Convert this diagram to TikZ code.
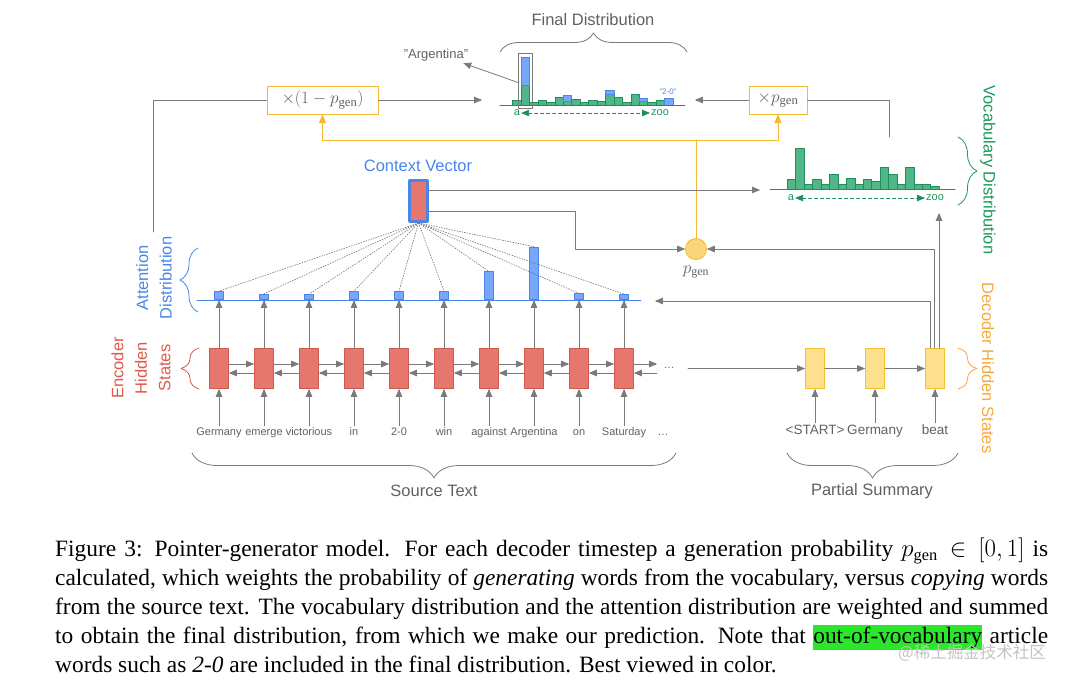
\documentclass[tikz,border=0pt]{standalone}
\usepackage{fontspec}
\setmainfont{Liberation Serif}
\setsansfont{Liberation Sans}
\newfontfamily\cjkfont{Noto Sans CJK SC}
\usetikzlibrary{arrows, calc, positioning, decorations.pathreplacing}

\definecolor{linegray}{HTML}{7A7A7A}
\definecolor{txtgray}{HTML}{616161}
\definecolor{encfill}{HTML}{E6776E}
\definecolor{encdraw}{HTML}{CF5A50}
\definecolor{encred}{HTML}{E0584C}
\definecolor{attfill}{HTML}{76A7FA}
\definecolor{attdraw}{HTML}{4A86E8}
\definecolor{attblue}{HTML}{4A86E8}
\definecolor{vocfill}{HTML}{52B788}
\definecolor{vocdraw}{HTML}{1E8F5C}
\definecolor{vocgreen}{HTML}{1A9A5C}
\definecolor{decfill}{HTML}{FCE08D}
\definecolor{decdraw}{HTML}{F5C02B}
\definecolor{decorange}{HTML}{F5A93B}
\definecolor{gatey}{HTML}{F5B82E}
\definecolor{pgfillc}{HTML}{FBD57A}
\definecolor{hlgreen}{HTML}{2BE62B}
\definecolor{wmgray}{HTML}{C4C4C4}

\newcommand{\hlword}[1]{{\setlength{\fboxsep}{0pt}\colorbox{hlgreen}{\rule[-6pt]{0pt}{25pt}#1}}}

\tikzset{
  conn/.style={draw=linegray, line width=0.8pt},
  gate/.style={draw=gatey, line width=1pt},
  encbox/.style={draw=encdraw, fill=encfill, line width=0.8pt, minimum width=19pt, minimum height=40pt, inner sep=0pt},
  decbox/.style={draw=decdraw, fill=decfill, line width=0.8pt, minimum width=19pt, minimum height=40pt, inner sep=0pt},
  attbar/.style={draw=attdraw, fill=attfill, line width=0.6pt, minimum width=8.5pt, inner sep=0pt, anchor=south},
  vocbar/.style={draw=vocdraw, fill=vocfill, line width=0.6pt},
  copybar/.style={draw=attdraw, fill=attfill, line width=0.6pt},
  word/.style={text=txtgray, font=\sffamily\fontsize{11}{13}\selectfont, inner sep=1pt, text height=8pt, text depth=2pt},
  tick/.style={text=vocgreen, font=\sffamily\fontsize{11}{12}\selectfont, inner sep=1pt},
  sidelabel/.style={font=\sffamily\fontsize{16.5}{23.5}\selectfont, align=center},
  mulbox/.style={draw=gatey, line width=1pt, fill=white, minimum height=28pt, inner sep=0pt, text=txtgray, font=\fontsize{18}{20}\selectfont},
  curly/.style={decorate, decoration={brace, amplitude=#1}, line width=0.8pt},
}

\begin{document}
\begin{tikzpicture}[line cap=round,line join=round,>=triangle 45,x=1pt,y=-1pt]
\useasboundingbox (0,0) rectangle (1080,683);

% final distribution
\node[sidelabel, text=txtgray] (finaltxt) at (593,20) {Final Distribution};
\draw[curly=19, draw=linegray] (500,52) -- (687,52);
\foreach \g/\b [count=\i from 0] in {5/0,20/48,2.7/0,5/0,2.7/0,7.7/0,3.3/9.3,5.7/0,2.7/0,5/0,4/0,10.7/15,7.3/0,2.7/0,10.7/0,3.3/6.7,2.7/0,5/0,0/6.7} {
  \ifdim\g pt>0pt \draw[vocbar] (512.7+8.44*\i,105) rectangle ++(8.44,-\g); \fi
  \ifdim\b pt>0pt \draw[copybar] (512.7+8.44*\i,105-\g) rectangle ++(8.44,\g-\b); \fi
}
\draw[draw=vocdraw, line width=0.8pt] (500,105) -- (685,105);
\node[tick] (fa) at (517,113) {a};
\node[tick] (fz) at (660,113) {zoo};
\draw[draw=vocdraw, dashed, <->, line width=0.8pt] (fa) -- (fz);
\node[font=\sffamily\fontsize{8}{9}\selectfont, text=attblue] (oov) at (668,92) {"2-0"};

\node[draw=linegray, line width=0.8pt, minimum width=14pt, minimum height=55pt, inner sep=0pt] (argbox) at (525.4,80.5) {};
\node[word, font=\sffamily\fontsize{13}{15}\selectfont] (argtxt) at (436,55) {"Argentina"};
\draw[conn,->] ([yshift=-2pt]argbox.west) -- ([xshift=-6pt,yshift=-2pt]argtxt.south east);

% gates
\node[mulbox, minimum width=111pt] (onem) at (322.5,100) {$\times(1-p_{\mathrm{gen}})$};
\node[mulbox, minimum width=58pt] (pm) at (778,100) {$\times p_{\mathrm{gen}}$};

\coordinate (attnout) at (153,232);
\coordinate (finleft) at (482,100);
\coordinate (finright) at (695,100);
\coordinate (vocout) at (889,137);
\draw[conn] (attnout) |- (onem.west);
\draw[conn,->] (onem.east) -- (finleft);
\draw[conn,->] (pm.west) -- (finright);
\draw[conn] (vocout) |- (pm.east);

\node[draw=gatey, fill=pgfillc, circle, minimum size=21pt, inner sep=0pt, line width=0.8pt] (pg) at (696,249) {};
\node[text=txtgray, font=\fontsize{17}{19}\selectfont] (pgtxt) at (696,272) {$p_{\mathrm{gen}}$};
\coordinate (split) at (696,140);
\draw[gate] (pg.north) -- (split);
\draw[gate,->] (split) -| (onem.south);
\draw[gate,->] (split) -| (pm.south);

% context vector
\node[draw=attblue, line width=3pt, fill=encfill, minimum width=18pt, minimum height=41pt, inner sep=0pt] (ctx) at (418.5,201) {};
\node[sidelabel, text=attblue] (ctxtxt) at (418,166) {Context Vector};
\coordinate (vocin) at (760,190);
\coordinate (ctxbend) at (575,211);
\draw[conn,->] ([yshift=11pt]ctx.east) -- (vocin);
\draw[conn,->] ([yshift=-10pt]ctx.east) -- (ctxbend) |- (pg.west);

% vocabulary distribution
\foreach \h [count=\i from 0] in {9.3,41,5,9.7,5,15,5,10.3,5,9.7,8,22,14.3,4.3,22,4.3,5,2.7}
  \draw[vocbar] (787.3+8.44*\i,189) rectangle ++(8.44,-\h);
\draw[draw=vocdraw, line width=0.8pt] (770,189) -- (955,189);
\node[tick] (va) at (791,198) {a};
\node[tick] (vz) at (935,198) {zoo};
\draw[draw=vocdraw, dashed, <->, line width=0.8pt] (va) -- (vz);
\draw[curly=19, draw=vocgreen] (958,137) -- (958,205);
\node[sidelabel, text=vocgreen, rotate=-90] (voctxt) at (988,170) {Vocabulary Distribution};

% encoder and attention
\foreach \w/\h [count=\i from 0] in {Germany/8.3,emerge/5.7,victorious/5.3,in/8.3,2-0/8.3,win/8.3,against/28,Argentina/52.7,on/6,Saturday/5.3} {
  \node[encbox] (e\i) at (219+45*\i,368.5) {};
  \node[word] (w\i) at (219+45*\i,432) {\w};
  \node[attbar, minimum height=\h pt] (a\i) at (219+45*\i,300) {};
  \draw[conn,->] (w\i) -- (e\i);
  \draw[conn,->] (e\i) -- (a\i.south);
  \draw[draw=linegray, line width=0.7pt, dash pattern=on 1pt off 1.6pt] (ctx.south) -- (a\i.north);
}
\draw[draw=attdraw, line width=0.8pt] (197,300) -- (641,300);
\foreach \i [count=\j from 1] in {0,...,8} {
  \draw[conn,->] ([yshift=4.5pt]e\i.east) -- ([yshift=4.5pt]e\j.west);
  \draw[conn,->] ([yshift=-4.5pt]e\j.west) -- ([yshift=-4.5pt]e\i.east);
}
\coordinate (eout) at (657,364);
\coordinate (ein) at (657,373);
\draw[conn,->] ([yshift=4.5pt]e9.east) -- (eout);
\draw[conn,->] (ein) -- ([yshift=-4.5pt]e9.east);
\node[word] (edots) at (669,365.5) {\dots};
\node[word] (wdots) at (663,432) {\dots};

\draw[curly=18, draw=attblue] (198,312) -- (198,248);
\node[sidelabel, text=attblue, rotate=90] (atttxt) at (154,278) {Attention\\Distribution};
\draw[curly=18, draw=encred] (199,389) -- (199,348);
\node[sidelabel, text=encred, rotate=90] (enctxt) at (141,368) {Encoder\\Hidden\\States};

% decoder
\foreach \w [count=\i from 0] in {<START>,Germany,beat} {
  \node[decbox] (d\i) at (815+60*\i,368.5) {};
  \node[word, font=\sffamily\fontsize{13.5}{15}\selectfont, text height=10pt] (dw\i) at (815+60*\i,430) {\w};
  \draw[conn,->] (dw\i) -- (d\i);
}
\coordinate (encend) at (688,368.5);
\draw[conn,->] (encend) -- (d0.west);
\draw[conn,->] (d0) -- (d1);
\draw[conn,->] (d1) -- (d2);
\coordinate (attnin) at (655,301);
\coordinate (vocup) at (939,213);
\draw[conn,->] ([xshift=-5pt]d2.north) |- (attnin);
\draw[conn,->] ([xshift=-1pt]d2.north) |- (pg.east);
\draw[conn,->] ([xshift=4pt]d2.north) -- (vocup);
\draw[curly=19, draw=decorange] (958,348) -- (958,389);
\node[sidelabel, text=decorange, rotate=-90] (dectxt) at (988,368) {Decoder Hidden States};

% bottom braces
\draw[curly=25, draw=linegray] (676,453) -- (192,453);
\node[sidelabel, text=txtgray] (srctxt) at (434,491) {Source Text};
\draw[curly=25, draw=linegray] (958,453) -- (787,453);
\node[sidelabel, text=txtgray] (sumtxt) at (872,491) {Partial Summary};

% caption
\node[anchor=north west, inner sep=0pt, text width=993pt, align=justify, font=\fontsize{23.4}{29}\selectfont] (caption) at (55,538)
{Figure 3: Pointer-generator model. For each decoder timestep a generation probability $p_{\mathrm{gen}}\in[0,1]$ is\linebreak
calculated, which weights the probability of \emph{generating} words from the vocabulary, versus \emph{copying} words\linebreak
from the source text. The vocabulary distribution and the attention distribution are weighted and summed\linebreak
to obtain the final distribution, from which we make our prediction. Note that \hlword{out-of-vocabulary} article\linebreak
words such as \emph{2-0} are included in the final distribution. Best viewed in color.};
\node[text=wmgray, font=\cjkfont\fontsize{16.5}{18}\selectfont, anchor=west, inner sep=0pt] (wm) at (898,653) {@稀土掘金技术社区};

\end{tikzpicture}
\end{document}
